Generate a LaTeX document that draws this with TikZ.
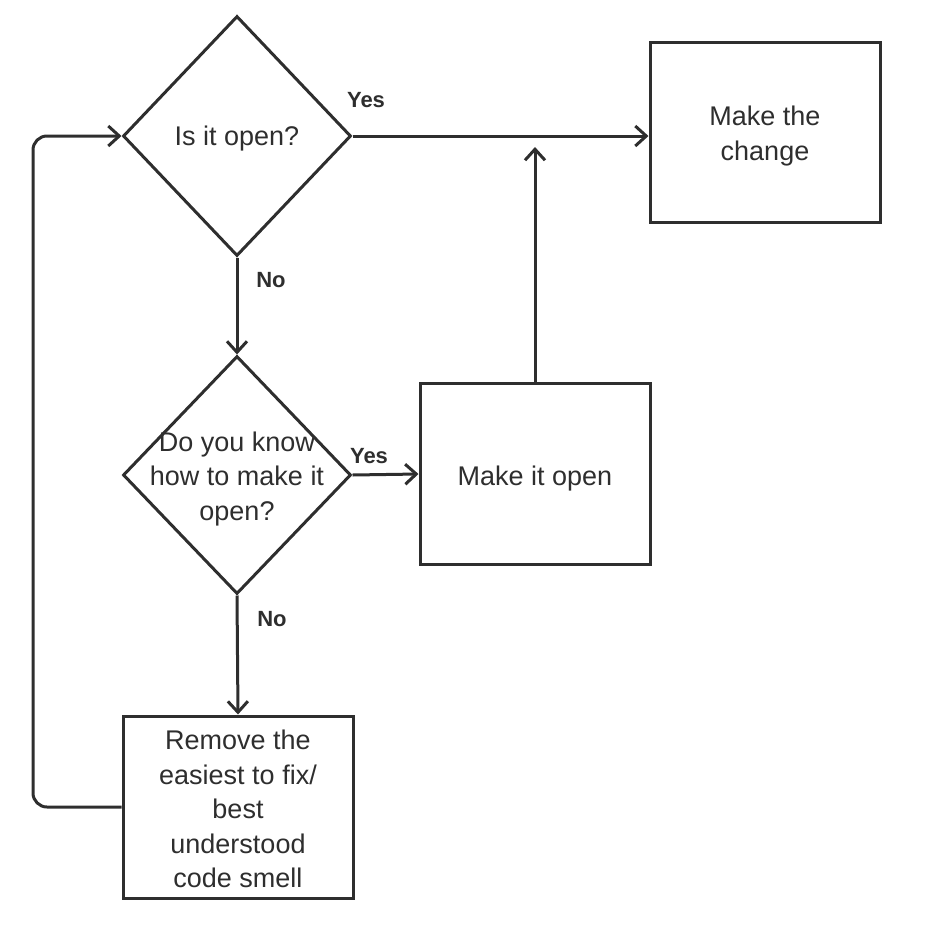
\documentclass[tikz,border=0pt]{standalone}
\usepackage{fontspec}
\setmainfont{Liberation Sans}
\usetikzlibrary{shapes.geometric,arrows.meta,calc}
\definecolor{ink}{HTML}{2E2E2E}
\tikzset{
  txt/.style={align=center, text=ink, font=\fontsize{27}{34.5}\selectfont},
  box/.style={draw=ink, line width=3pt, rectangle, minimum width=230pt, minimum height=181pt, inner sep=0pt},
  dec/.style={draw=ink, line width=3pt, diamond, minimum width=228pt, minimum height=240pt, inner sep=0pt},
  conn/.style={draw=ink, line width=3pt, -{Straight Barb[length=11pt,width=20pt,line width=3pt]}},
  lab/.style={font=\bfseries\fontsize{22}{24}\selectfont, text=ink, inner sep=0pt}
}
\begin{document}
\begin{tikzpicture}[x=1pt,y=-1pt]
\useasboundingbox (0,0) rectangle (938,946);
\node[dec, label={[txt, yshift=-3pt]center:Is it open?}] (d1) at (237,136) {};
\node[dec, minimum height=238pt, label={[txt, yshift=-4pt]center:{Do you know\\how to make it\\open?}}] (d2) at (237,475) {};
\node[box, minimum height=180pt, label={[txt, yshift=-4pt]center:{Make the\\change}}] (chg) at (765,132) {};
\node[box, label={[txt, yshift=-5pt]center:Make it open}] (opn) at (535,474) {};
\node[box, minimum height=182pt, label={[txt, yshift=-2pt]center:{Remove the\\easiest to fix/\\best\\understood\\code smell}}] (rem) at (238,807) {};
\coordinate (lx) at (33,0);
\draw[conn] (d1.east) -- (d1.east -| chg.west);
\draw[conn, shorten >=11pt] (opn.north) -- (opn.north |- d1.east);
\draw[conn] (d1.south) -- (d2.north);
\draw[conn] (d2.east) -- (opn.west);
\draw[conn] (d2.south) -- (rem.north);
\draw[conn, rounded corners=14pt] (rem.west) -| (lx |- d1.west) -- (d1.west);
\node[lab] (y1) at (366,100) {Yes};
\node[lab] (n1) at (271,280) {No};
\node[lab] (y2) at (369,456) {Yes};
\node[lab] (n2) at (272,619) {No};
\end{tikzpicture}
\end{document}
